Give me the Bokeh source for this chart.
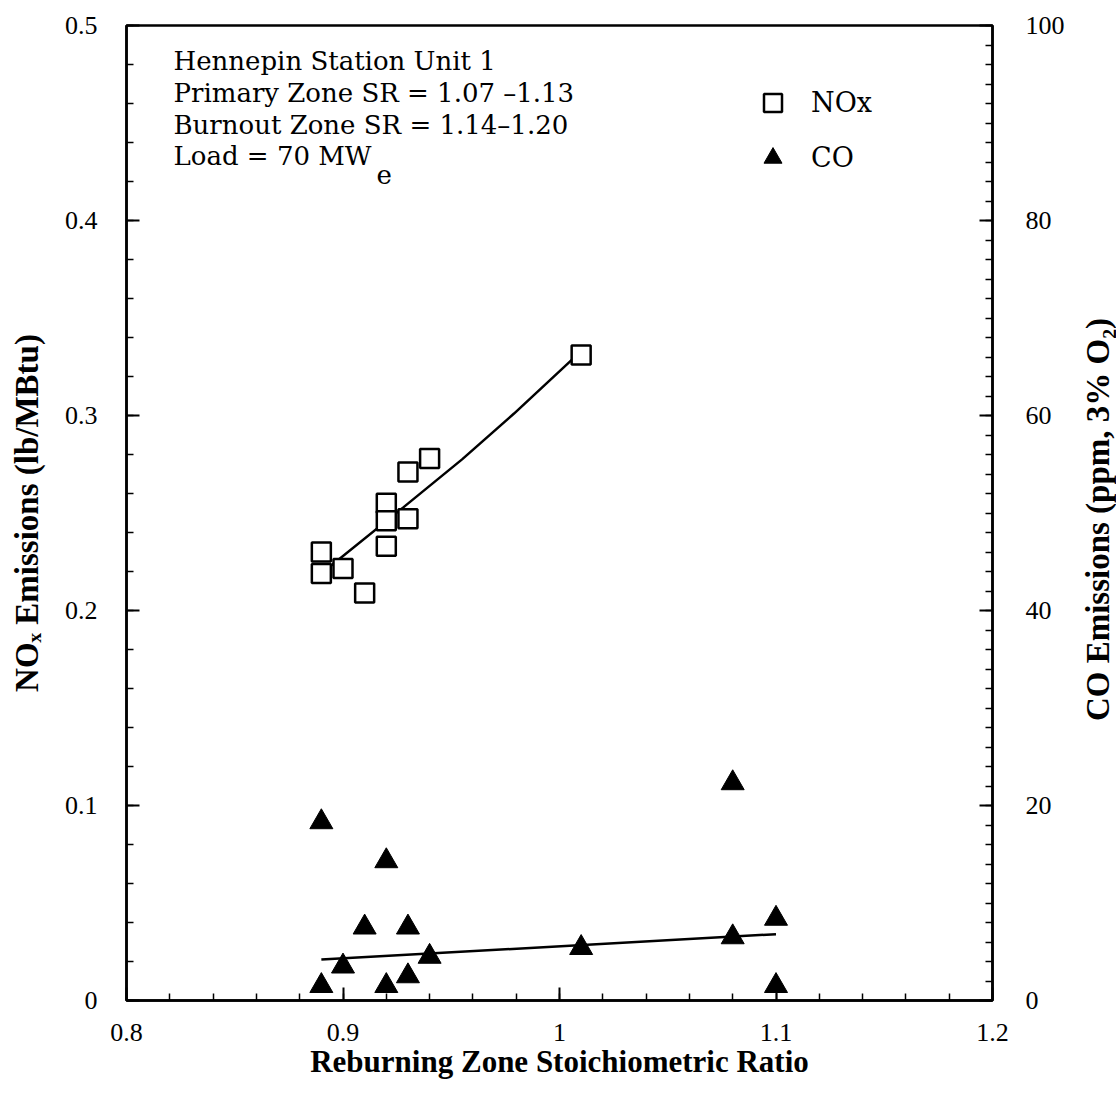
import numpy as np
from bokeh.plotting import figure
from bokeh.layouts import row
from bokeh.models import Range1d, LinearAxis, FixedTicker, Label, Legend, LegendItem
from bokeh.embed import file_html
from bokeh.resources import INLINE

# ---------------- data ----------------
nox_sr = [0.89, 0.89, 0.90, 0.91, 0.92, 0.92, 0.92, 0.93, 0.93, 0.94, 1.01]
nox_val = [0.230, 0.219, 0.2215, 0.209, 0.255, 0.246, 0.233, 0.247, 0.271, 0.278, 0.331]
nox_fit_sr = [0.89, 0.928, 0.955, 0.979, 1.01]
nox_fit_val = [0.219, 0.253, 0.2775, 0.301, 0.333]

co_sr = [0.89, 0.89, 0.90, 0.91, 0.92, 0.92, 0.93, 0.93, 0.94, 1.01, 1.08, 1.08, 1.10, 1.10]
co_val = [18.3, 1.5, 3.5, 7.5, 14.3, 1.5, 7.5, 2.5, 4.5, 5.4, 22.3, 6.5, 8.4, 1.5]
co_fit_sr = [0.89, 1.10]
co_fit_val = [4.2, 6.8]

x_ticks = [0.8, 0.9, 1.0, 1.1, 1.2]
x_tick_labels = ["0.8", "0.9", "1", "1.1", "1.2"]
nox_ticks = [0.0, 0.1, 0.2, 0.3, 0.4, 0.5]
nox_tick_labels = ["0", "0.1", "0.2", "0.3", "0.4", "0.5"]
co_ticks = [0, 20, 40, 60, 80, 100]
co_tick_labels = ["0", "20", "40", "60", "80", "100"]

x_title = "Reburning Zone Stoichiometric Ratio"
nox_title = "NO\u2093 Emissions (lb/MBtu)"
co_title = "CO Emissions (ppm, 3% O\u2082)"

info_lines = ["Hennepin Station Unit 1",
              "Primary Zone SR = 1.07 \u20131.13",
              "Burnout Zone SR = 1.14\u20131.20",
              "Load = 70 MW"]
info_sub = "e"

TICK_FONT = "Liberation Serif"
LABEL_FONT = "Liberation Serif"
TEXT_FONT = "DejaVu Serif"

p = figure(frame_width=866, frame_height=975,
           x_range=Range1d(0.8, 1.2), y_range=Range1d(0, 0.5),
           output_backend="svg", toolbar_location=None,
           min_border_left=126, min_border_right=88,
           min_border_top=25, min_border_bottom=90,
           background_fill_color="white", border_fill_color="white")
p.extra_y_ranges = {"co": Range1d(0, 100)}
p.xgrid.visible = False
p.ygrid.visible = False
p.outline_line_color = "black"
p.outline_line_width = 2.5


def style_axis(ax, ticks, labels, minor):
    ax.ticker = FixedTicker(ticks=ticks, minor_ticks=minor)
    ax.major_label_overrides = {t: l for t, l in zip(ticks, labels)}
    ax.major_tick_in = 13
    ax.major_tick_out = 0
    ax.minor_tick_in = 7
    ax.minor_tick_out = 0
    ax.major_tick_line_width = 2
    ax.minor_tick_line_width = 1.5
    ax.axis_line_width = 2.5
    ax.major_label_text_font = TICK_FONT
    ax.major_label_text_font_size = "26px"
    ax.major_label_text_color = "black"
    ax.axis_label_text_font = LABEL_FONT
    ax.axis_label_text_font_style = "bold"
    ax.axis_label_text_color = "black"


xa = p.xaxis[0]
style_axis(xa, x_ticks, x_tick_labels, list(np.round(np.arange(0.8, 1.2001, 0.02), 3)))
xa.axis_label = x_title
xa.axis_label_text_font_size = "31px"
xa.major_label_standoff = 23
xa.axis_label_standoff = 0

ya = p.yaxis[0]
style_axis(ya, nox_ticks, nox_tick_labels, list(np.round(np.arange(0, 0.5001, 0.02), 3)))
ya.axis_label = nox_title
ya.axis_label_text_font_size = "33px"
ya.major_label_standoff = 29
ya.axis_label_standoff = 17

ra = LinearAxis(y_range_name="co")
style_axis(ra, co_ticks, co_tick_labels, list(np.arange(0, 101, 2)))
ra.major_label_standoff = 33
p.add_layout(ra, "right")

# fit lines
p.line(nox_fit_sr, nox_fit_val, line_color="black", line_width=2.5)
p.line(co_fit_sr, co_fit_val, line_color="black", line_width=2.5, y_range_name="co")

# markers
sq = p.scatter(nox_sr, nox_val, marker="square", size=19, fill_color="white",
               line_color="black", line_width=2.5)
tri = p.scatter(co_sr, co_val, marker="triangle", size=23, fill_color="black",
                line_color="black", line_width=1, y_range_name="co")

legend = Legend(items=[LegendItem(label="NOx", renderers=[sq]),
                       LegendItem(label="CO", renderers=[tri])],
                location=(624, 820), glyph_width=45, glyph_height=45, spacing=10,
                padding=0, margin=0, border_line_color=None,
                background_fill_alpha=0, label_standoff=16,
                label_text_font=TEXT_FONT, label_text_font_size="27px",
                label_text_color="black", label_text_baseline="middle")
p.add_layout(legend)

# info text (screen units relative to frame)
baselines = [940, 908, 876, 845]
for t, yb in zip(info_lines, baselines):
    p.add_layout(Label(x=47, y=yb, x_units="screen", y_units="screen", text=t,
                       text_font=TEXT_FONT, text_font_size="26px", text_color="black",
                       text_baseline="alphabetic", text_align="left"))
p.add_layout(Label(x=250, y=826, x_units="screen", y_units="screen", text=info_sub,
                   text_font=TEXT_FONT, text_font_size="26px", text_color="black",
                   text_baseline="alphabetic", text_align="left"))

# narrow companion figure holding the right-hand axis title (reads bottom to top)
q = figure(frame_width=36, frame_height=1090, x_range=Range1d(0, 1), y_range=Range1d(0, 1),
           x_axis_type=None, y_axis_type=None, output_backend="svg",
           toolbar_location=None, min_border=0,
           background_fill_color="white", border_fill_color="white")
q.outline_line_color = None
q.xgrid.visible = False
q.ygrid.visible = False
q.add_layout(Label(x=17, y=596, x_units="screen", y_units="screen",
                   text=co_title, angle=np.pi / 2,
                   text_font=LABEL_FONT, text_font_style="bold", text_font_size="33px",
                   text_color="black", text_align="center", text_baseline="middle"))

layout = row(p, q, spacing=0)
open("out.html", "w").write(file_html(layout, INLINE))
